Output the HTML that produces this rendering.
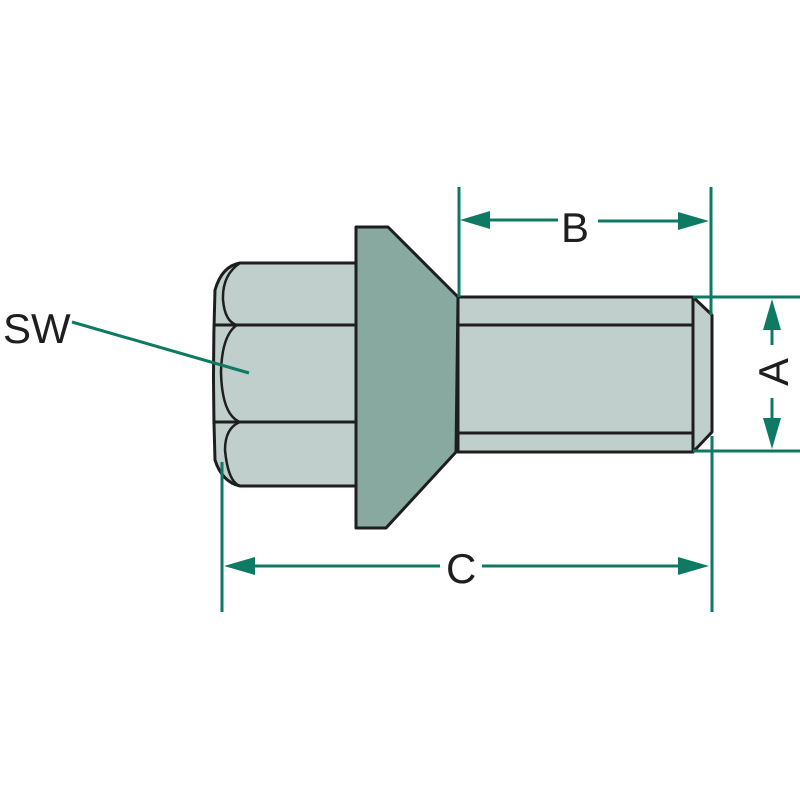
<!DOCTYPE html>
<html><head><meta charset="utf-8"><style>html,body{margin:0;padding:0;background:#fff}svg{display:block}</style></head>
<body>
<svg width="800" height="800" viewBox="0 0 800 800" xmlns="http://www.w3.org/2000/svg">
<rect width="800" height="800" fill="#fff"/>
<g stroke="#1e1e1e" stroke-width="3" stroke-linejoin="round">
<path d="M240,263 L357,263 L357,486 L240,486 Q222,482 215,460 Q212,375 215,290 Q222,266 240,263 Z" fill="#c0cfcc"/>
<path d="M213,325 L357,325 M213,422 L357,422" fill="none"/>
<path d="M240,263 Q222,275 223,300 Q225,322 237,325 Q222,335 221,372 Q222,415 240,422 Q225,428 225,450 Q228,482 240,486" fill="none" stroke-width="2.5"/>
<rect x="458" y="297" width="235" height="155" fill="#c0cfcc"/>
<path d="M458,325 L693,325 M458,433 L693,433" fill="none"/>
<polygon points="693,297 712,315 712,432 693,452" fill="#c0cfcc"/>
<polygon points="356,227 388,227 458,297 456,452 386,528 356,528" fill="#88a9a0"/>
</g>
<g stroke="#0e7a64" stroke-width="3" fill="none">
<line x1="459" y1="187" x2="459" y2="297"/>
<line x1="711" y1="187" x2="711" y2="315"/>
<line x1="712" y1="436" x2="712" y2="612"/>
<line x1="222" y1="462" x2="222" y2="612"/>
<line x1="488" y1="220" x2="558" y2="220"/>
<line x1="598" y1="221" x2="680" y2="221"/>
<line x1="252" y1="566" x2="440" y2="566"/>
<line x1="482" y1="566" x2="680" y2="566"/>
<line x1="693" y1="297" x2="800" y2="297"/>
<line x1="693" y1="451" x2="800" y2="451"/>
<line x1="772" y1="328" x2="772" y2="345"/>
<line x1="772" y1="398" x2="772" y2="418"/>
<line x1="72" y1="322" x2="249" y2="373" stroke-width="3"/>
</g>
<g fill="#0e7a64">
<polygon points="460,220 490,211 490,229"/>
<polygon points="709,221 678,212 678,230"/>
<polygon points="224,566 255,557 255,575"/>
<polygon points="709,566 678,557 678,575"/>
<polygon points="772,299 763,330 781,330"/>
<polygon points="772,449 763,418 781,418"/>
</g>
<g font-family="Liberation Sans, sans-serif" font-size="42" fill="#1e1e1e">
<text x="3" y="343">SW</text>
<text x="561" y="242">B</text>
<text x="446" y="583">C</text>
<text transform="translate(788,372) rotate(-90)" text-anchor="middle">A</text>
</g>
</svg>
</body></html>
